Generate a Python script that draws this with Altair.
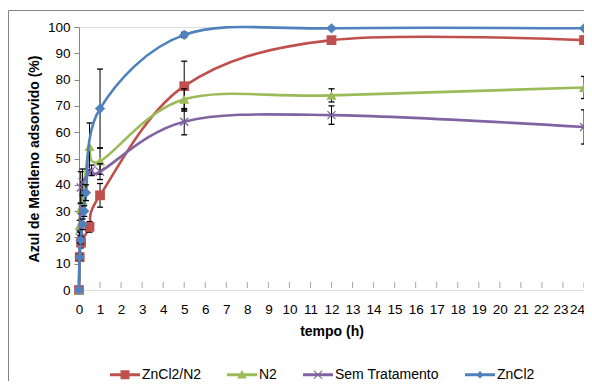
import altair as alt
import pandas as pd

# ---------------- data ----------------
series = ["ZnCl2/N2", "N2", "Sem Tratamento", "ZnCl2"]
colors = ["#C0504D", "#9BBB59", "#8064A2", "#4F81BD"]

red_t = [0, 0.033, 0.1, 0.5, 1, 5, 12, 24]
red_v = [0, 12.5, 18, 24, 36, 77.5, 95, 95]
red_e = [0, 1.5, 2, 2, 4.5, 9.5, 1, 1.5]

green_t = [0, 0.033, 0.083, 0.167, 0.5, 1, 5, 12, 24]
green_v = [0, 24.5, 31, 34, 54.5, 49, 72.5, 74, 77]
green_e = [0, 2, 2, 3, 9, 5, 4, 2.5, 4.2]

purple_t = [0, 0.033, 0.083, 0.167, 0.6, 1, 5, 12, 24]
purple_v = [0, 20, 39, 41, 45.5, 45, 64, 66.5, 62]
purple_e = [0, 2, 6, 5, 2, 3, 5, 3.5, 6.5]

blue_t = [0, 0.033, 0.083, 0.167, 0.25, 0.33, 1, 5, 12, 24]
blue_v = [0, 12.5, 19, 25, 30, 37, 69, 97, 99.5, 99.5]
blue_e = [0, 1, 1.5, 2, 2, 3, 15, 1, 0.5, 0.5]

x_ticks = list(range(0, 25))
y_ticks = list(range(0, 101, 10))

FONT = "Liberation Sans"
W, H = 505, 263

X_AXIS = alt.Axis(values=x_ticks, grid=False, domain=False, ticks=False, tickSize=0,
                  labelPadding=12, labelFlush=False, labelOverlap=False,
                  labelOffset=alt.expr("datum.value == 24 ? -7 : datum.value == 23 ? -2.5 : datum.value == 22 ? -1 : 0"),
                  labelFont=FONT, labelFontSize=13.5, labelColor="black",
                  title="tempo (h)", titleFont=FONT, titleFontSize=14,
                  titleFontWeight="bold", titleColor="black", titlePadding=9)
Y_AXIS = alt.Axis(values=y_ticks, grid=False, domainColor="#868686", tickColor="#868686",
                  tickSize=5, labelPadding=4, labelFlush=False,
                  labelFont=FONT, labelFontSize=13.5, labelColor="black",
                  title="Azul de Metileno adsorvido (%)", titleFont=FONT, titleFontSize=14,
                  titleFontWeight="bold", titleColor="black", titlePadding=6)


def xq(field="t"):
    return alt.X(f"{field}:Q", scale=alt.Scale(domain=[0, 24], nice=False, zero=False), axis=X_AXIS)


def yq(field="v"):
    return alt.Y(f"{field}:Q", scale=alt.Scale(domain=[0, 100], nice=False), axis=Y_AXIS)


x_path = "M-1,-1L1,1M-1,1L1,-1"


def series_layers(t, v, e, color, shape, size, filled, sw):
    df = pd.DataFrame({"t": t, "v": v, "e": e})
    df["lo"] = df["v"] - df["e"]
    df["hi"] = df["v"] + df["e"]
    base = alt.Chart(df)
    line = base.mark_line(interpolate="cardinal", strokeWidth=2.6, color=color).encode(x=xq(), y=yq())
    eb = base.transform_filter("datum.e > 0")
    rule = eb.mark_rule(color="black", strokeWidth=1).encode(x=xq(), y=yq("lo"), y2="hi:Q")
    cap_hi = eb.mark_tick(orient="horizontal", size=6, thickness=1.3, color="black", opacity=1).encode(
        x=xq(), y=yq("hi"))
    cap_lo = eb.mark_tick(orient="horizontal", size=6, thickness=1.3, color="black", opacity=1).encode(
        x=xq(), y=yq("lo"))
    pts = base.mark_point(shape=shape, filled=filled, size=size, color=color, opacity=1,
                          strokeWidth=sw).encode(x=xq(), y=yq())
    return [line, rule, cap_hi, cap_lo, pts]


layers = []

# chart frame
frame = alt.Chart(pd.DataFrame({"k": [0]})).mark_rect(
    fill="white", fillOpacity=0, stroke="#868686", strokeWidth=1).encode(
    x=alt.value(-70.5), x2=alt.value(620), y=alt.value(-16.5), y2=alt.value(420))
layers.append(frame)

# x ticks (drawn inside, as in the reference)
ticks = alt.Chart(pd.DataFrame({"t": x_ticks})).mark_tick(
    orient="vertical", size=6, thickness=1, color="#A6A6A6", opacity=1).encode(
    x=xq(), y=alt.value(H - 5))
layers.append(ticks)

layers += series_layers(red_t, red_v, red_e, colors[0], "square", 95, True, 0)
layers += series_layers(green_t, green_v, green_e, colors[1], "triangle-up", 105, True, 0)
layers += series_layers(purple_t, purple_v, purple_e, colors[2], x_path, 64, False, 1.3)
layers += series_layers(blue_t, blue_v, blue_e, colors[3], "diamond", 105, True, 0)

# legend (line + marker symbols)
leg_paths = [
    "M-2,-0.2H2V0.2H-2Z M-0.6,-0.6H0.6V0.6H-0.6Z",
    "M-2,-0.2H2V0.2H-2Z M0,-0.65L0.65,0.5H-0.65Z",
    "M-2,-0.2H2V0.2H-2Z M-0.6,-0.5L-0.5,-0.6L0.6,0.5L0.5,0.6Z M0.5,-0.6L0.6,-0.5L-0.5,0.6L-0.6,0.5Z",
    "M-2,-0.2H2V0.2H-2Z M0,-0.5L0.5,0L0,0.5L-0.5,0Z",
]
leg_props = dict(title=None, orient="none", legendX=38.5, legendY=340, direction="horizontal",
                 symbolSize=225, symbolStrokeWidth=0, labelOffset=9.5, columnPadding=25,
                 labelFont=FONT, labelFontSize=14, labelColor="black", padding=0)
legend_layer = alt.Chart(pd.DataFrame({"s": series})).transform_filter("false").mark_point(
    filled=True, opacity=1, strokeWidth=0).encode(
    x=alt.value(0), y=alt.value(0),
    color=alt.Color("s:N", scale=alt.Scale(domain=series, range=colors), legend=alt.Legend(**leg_props)),
    shape=alt.Shape("s:N", scale=alt.Scale(domain=series, range=leg_paths), legend=alt.Legend(**leg_props)),
)
layers.append(legend_layer)

chart = alt.layer(*layers).properties(
    width=W, height=H,
    autosize=alt.AutoSizeParams(type="none"),
    padding={"left": 71, "top": 19, "right": 0, "bottom": 91},
).configure_view(stroke=None).configure(background="white")

chart.save("out.html", embed_options={"renderer": "svg", "actions": False})
